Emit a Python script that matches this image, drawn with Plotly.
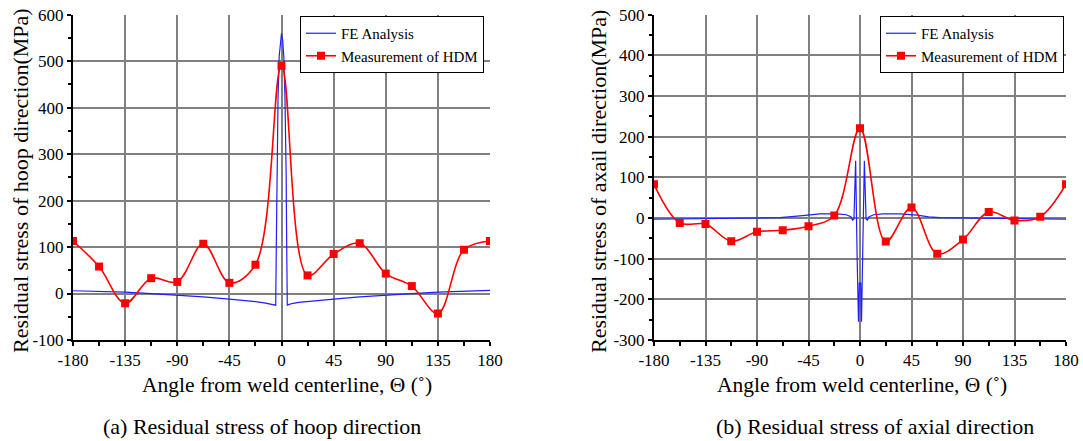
import plotly.graph_objects as go

# Measurement angles (deg) around the pipe, every 22.5 deg
meas_angle = [-180, -157.5, -135, -112.5, -90, -67.5, -45, -22.5, 0,
              22.5, 45, 67.5, 90, 112.5, 135, 157.5, 180]

# Hole-drilling measurements (MPa)
hoop_meas = [113, 58, -21, 33, 25, 107, 23, 62, 490,
             39, 85, 108, 43, 16, -43, 94, 113]
axial_meas = [83, -12, -15, -57, -34, -30, -20, 6, 221,
              -58, 26, -88, -53, 15, -6, 3, 83]

# FE results, hoop direction
fe_hoop_angle = [-180, -157.5, -135, -112.5, -90, -67.5, -45, -30, -22.5, -15,
                 -10, -6, -5, -4.5, -4, -3.5, -3, -2, -1, 0,
                 1, 2, 3, 3.5, 4, 4.5, 5, 6, 10, 15,
                 22.5, 30, 45, 67.5, 90, 112.5, 135, 157.5, 180]
fe_hoop = [6, 5, 3, 0, -3, -7, -12, -15, -17.5, -20,
           -22, -24, -25, 100, 260, 350, 420, 510, 545, 560,
           545, 510, 420, 350, 260, 100, -25, -24, -21, -19,
           -17, -15, -12, -7, -3, 0, 3, 5, 7]

# FE results, axial direction
fe_axial_angle = [-180, -150, -120, -90, -70, -50, -35, -20, -12, -8,
                  -6.5, -5.3, -3.8, -2.5, -1.3, -0.6, 0, 0.6, 1.3, 2.5,
                  3.8, 5.3, 6.5, 8, 12, 20, 35, 50, 60, 70,
                  90, 120, 150, 180]
fe_axial = [-3, -2, -1, 0, 1, 6, 10, 10, 8, 3,
            -5, -3, 141, -100, -255, -160, -160, -160, -255, -100,
            141, -3, -5, 3, 8, 10, 10, 7, 3, 1,
            0, -1, -2, -3]

x_ticks = [-180, -135, -90, -45, 0, 45, 90, 135, 180]
hoop_ticks = [-100, 0, 100, 200, 300, 400, 500, 600]
axial_ticks = [-300, -200, -100, 0, 100, 200, 300, 400, 500]

SERIF = "Liberation Serif, Times New Roman, serif"
GRID = "#808080"
BLUE = "#1f1fff"
RED = "#ff0000"

fig = go.Figure()

# Left panel: hoop direction
fig.add_trace(go.Scatter(x=fe_hoop_angle, y=fe_hoop, mode="lines",
                         name="FE Analysis", line=dict(color=BLUE, width=1.2),
                         xaxis="x", yaxis="y", legend="legend"))
fig.add_trace(go.Scatter(x=meas_angle, y=hoop_meas, mode="lines+markers",
                         name="Measurement of HDM",
                         line=dict(color=RED, width=1.6, shape="spline", smoothing=1),
                         marker=dict(symbol="square", size=8, color=RED),
                         xaxis="x", yaxis="y", legend="legend"))

# Right panel: axial direction
fig.add_trace(go.Scatter(x=fe_axial_angle, y=fe_axial, mode="lines",
                         name="FE Analysis", line=dict(color=BLUE, width=1.2),
                         xaxis="x2", yaxis="y2", legend="legend2"))
fig.add_trace(go.Scatter(x=meas_angle, y=axial_meas, mode="lines+markers",
                         name="Measurement of HDM",
                         line=dict(color=RED, width=1.6, shape="spline", smoothing=1),
                         marker=dict(symbol="square", size=8, color=RED),
                         xaxis="x2", yaxis="y2", legend="legend2"))

tick_font = dict(family=SERIF, size=17, color="black")


def labels(vals):
    # plain hyphen-minus for negative tick labels
    return [str(v) for v in vals]


def x_axis(domain, anchor):
    return dict(domain=domain, anchor=anchor, range=[-180, 180],
                tickvals=x_ticks, ticktext=labels(x_ticks),
                ticks="outside", ticklen=4, tickcolor="black", tickwidth=1.5,
                minor=dict(tick0=-180, dtick=22.5, ticks="outside", ticklen=4,
                           tickcolor="black", showgrid=False),
                showgrid=True, gridcolor=GRID, gridwidth=2, zeroline=False,
                showline=True, linecolor="black", linewidth=2,
                tickfont=tick_font, automargin=False, fixedrange=True)


def y_axis(domain, anchor, rng, vals):
    return dict(domain=domain, anchor=anchor, range=rng,
                tickvals=vals, ticktext=labels(vals),
                ticks="outside", ticklen=4, tickcolor="black", tickwidth=1.5,
                minor=dict(tick0=rng[0], dtick=50, ticks="outside", ticklen=3,
                           tickcolor="black", showgrid=False),
                showgrid=True, gridcolor=GRID, gridwidth=2, zeroline=False,
                showline=True, linecolor="black", linewidth=2,
                tickfont=tick_font, automargin=False, fixedrange=True)


H = 441.0
Y_DOM = [(H - 340) / H, (H - 14.7) / H]
legend_style = dict(bgcolor="white", bordercolor="black", borderwidth=1,
                    font=dict(family=SERIF, size=15, color="black"),
                    xanchor="right", yanchor="top", tracegroupgap=0,
                    itemwidth=30)

fig.update_layout(
    width=1083, height=441,
    margin=dict(l=0, r=0, t=0, b=0, autoexpand=False),
    paper_bgcolor="white", plot_bgcolor="white",
    font=dict(family=SERIF, color="black"),
    xaxis=x_axis([73 / 1083, 490 / 1083], "y"),
    yaxis=y_axis(Y_DOM, "x", [-100, 600], hoop_ticks),
    xaxis2=x_axis([654 / 1083, 1066 / 1083], "y2"),
    yaxis2=y_axis(Y_DOM, "x2", [-300, 500], axial_ticks),
    legend=dict(x=484 / 1083, y=(H - 16) / H, **legend_style),
    legend2=dict(x=1064 / 1083, y=(H - 16) / H, **legend_style),
    showlegend=True,
)

xtitle_font = dict(family=SERIF, size=21.5, color="black")
caption_font = dict(family=SERIF, size=22, color="black")
ytitle_font = dict(family=SERIF, size=22, color="black")

annotations = [
    dict(text="Angle from weld centerline, \u0398 (\u02da)", x=287 / 1083, y=(H - 385) / H,
         font=xtitle_font, yanchor="middle"),
    dict(text="Angle from weld centerline, \u0398 (\u02da)", x=862 / 1083, y=(H - 385) / H,
         font=xtitle_font, yanchor="middle"),
    dict(text="(a) Residual stress of hoop direction", x=262 / 1083, y=1 / H,
         font=caption_font, yanchor="bottom"),
    dict(text="(b) Residual stress of axial direction", x=875 / 1083, y=1 / H,
         font=caption_font, yanchor="bottom"),
    dict(text="Residual stress of hoop direction(MPa)", x=20 / 1083, y=(H - 181) / H,
         textangle=-90, font=ytitle_font, yanchor="middle"),
    dict(text="Residual stress of axail direction(MPa)", x=598 / 1083, y=(H - 181) / H,
         textangle=-90, font=ytitle_font, yanchor="middle"),
]
for a in annotations:
    fig.add_annotation(xref="paper", yref="paper", showarrow=False,
                       xanchor="center", borderpad=0, **a)

fig.write_html("out.html")
